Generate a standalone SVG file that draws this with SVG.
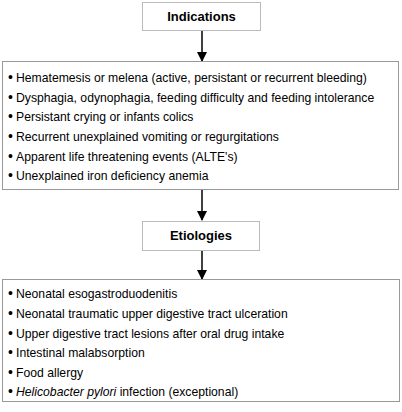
<svg xmlns="http://www.w3.org/2000/svg" width="402" height="412" viewBox="0 0 402 412">
<style>
.box{fill:#fff;stroke:#999;stroke-width:1}
.tbox{fill:#fff;stroke:#bbb;stroke-width:1}
.title{font-family:"Liberation Sans",Arial,sans-serif;font-size:13px;font-weight:bold;fill:#000;text-anchor:middle}
.item{font-family:"Liberation Sans",Arial,sans-serif;font-size:12.2px;fill:#000}
.b{font-size:14px}
.conn{stroke:#000;stroke-width:1.5;fill:none}
</style>
<defs>
<marker id="ah" markerWidth="10" markerHeight="10" refX="9" refY="5" orient="auto" markerUnits="userSpaceOnUse">
<path d="M0,0 L10,5 L0,10 Z" fill="#000"/>
</marker>
</defs>
<rect width="402" height="412" fill="#fff"/>
<g id="connectors">
<line class="conn" x1="202" y1="31" x2="202" y2="61" marker-end="url(#ah)"/>
<line class="conn" x1="202" y1="190" x2="202" y2="220" marker-end="url(#ah)"/>
<line class="conn" x1="202" y1="251" x2="202" y2="279" marker-end="url(#ah)"/>
</g>
<g id="indications">
<rect class="tbox" x="142.5" y="2.5" width="118" height="28"/>
<text class="title" x="201.5" y="21">Indications</text>
</g>
<g id="indications-list">
<rect class="box" x="2.5" y="61.5" width="396" height="128"/>
<text class="item" y="82"><tspan class="b" x="8">•</tspan><tspan x="16">Hematemesis or melena (active, persistant or recurrent bleeding)</tspan></text>
<text class="item" y="101.5"><tspan class="b" x="8">•</tspan><tspan x="16">Dysphagia, odynophagia, feeding difficulty and feeding intolerance</tspan></text>
<text class="item" y="121"><tspan class="b" x="8">•</tspan><tspan x="16">Persistant crying or infants colics</tspan></text>
<text class="item" y="141"><tspan class="b" x="8">•</tspan><tspan x="16">Recurrent unexplained vomiting or regurgitations</tspan></text>
<text class="item" y="160.5"><tspan class="b" x="8">•</tspan><tspan x="16">Apparent life threatening events (ALTE's)</tspan></text>
<text class="item" y="180"><tspan class="b" x="8">•</tspan><tspan x="16">Unexplained iron deficiency anemia</tspan></text>
</g>
<g id="etiologies">
<rect class="tbox" x="142.5" y="221.5" width="117" height="29"/>
<text class="title" x="201" y="240">Etiologies</text>
</g>
<g id="etiologies-list">
<rect class="box" x="2.5" y="279.5" width="397" height="122"/>
<text class="item" y="298"><tspan class="b" x="8">•</tspan><tspan x="16">Neonatal esogastroduodenitis</tspan></text>
<text class="item" y="318"><tspan class="b" x="8">•</tspan><tspan x="16">Neonatal traumatic upper digestive tract ulceration</tspan></text>
<text class="item" y="337.5"><tspan class="b" x="8">•</tspan><tspan x="16">Upper digestive tract lesions after oral drug intake</tspan></text>
<text class="item" y="357"><tspan class="b" x="8">•</tspan><tspan x="16">Intestinal malabsorption</tspan></text>
<text class="item" y="376.5"><tspan class="b" x="8">•</tspan><tspan x="16">Food allergy</tspan></text>
<text class="item" y="396"><tspan class="b" x="8">•</tspan><tspan x="16" font-style="italic">Helicobacter pylori</tspan><tspan> infection (exceptional)</tspan></text>
</g>
</svg>
